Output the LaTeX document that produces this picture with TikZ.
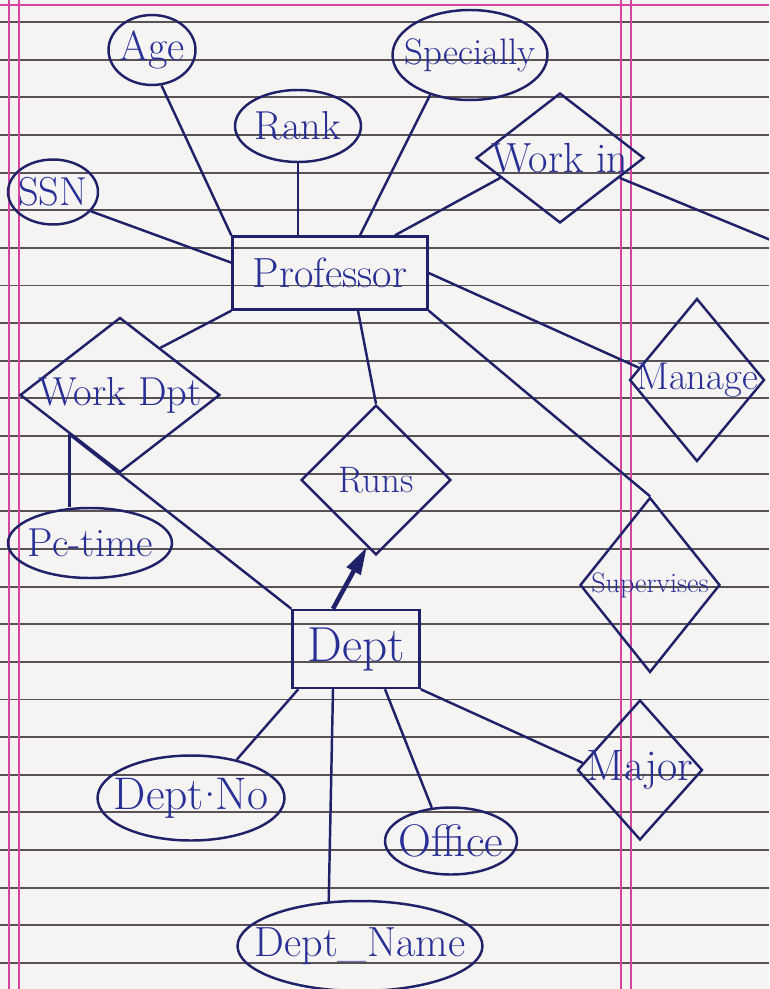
\documentclass[tikz,border=0pt]{standalone}
\usetikzlibrary{shapes.geometric,arrows.meta,calc}
\definecolor{inkblue}{RGB}{32,34,105}
\definecolor{penblue}{RGB}{40,48,150}
\definecolor{paper}{RGB}{246,244,243}
\definecolor{rule}{RGB}{88,82,86}
\definecolor{margin}{RGB}{214,70,160}
\tikzset{
  ink/.style={draw=inkblue,line width=1.4pt},
  hand/.style={text=penblue,font=\fontsize{23}{27}\selectfont},
  entity/.style={ink,rectangle,inner sep=0pt,hand,font=\fontsize{24}{28}\selectfont},
  attr/.style={ink,ellipse,inner sep=0pt},
  rel/.style={ink,diamond,inner sep=0pt},
}
\begin{document}
\begin{tikzpicture}[x=0.02cm,y=-0.02cm]
\useasboundingbox (0,0) rectangle (769,989);
\clip (0,0) rectangle (769,989);
\fill[paper] (0,0) rectangle (769,989);
\foreach \k in {0,...,25}
  \draw[rule,line width=1.1pt] (0,{22+37.64*\k}) -- (769,{22+37.64*\k});
\foreach \xm in {9,19,621,631}
  \draw[margin,line width=0.7pt] (\xm,0) -- (\xm,989);
\draw[margin,line width=0.7pt] (0,5) -- (769,5);

\node[entity,minimum width=3.9cm,minimum height=1.46cm] (prof) at (330,273) {Professor};
\node[entity,minimum width=2.54cm,minimum height=1.56cm,font=\fontsize{28}{32}\selectfont] (dept) at (356,649) {Dept};

\node[attr,minimum width=1.74cm,minimum height=1.4cm,label={[hand,font=\fontsize{24}{28}\selectfont]center:Age}] (age) at (152,50) {};
\node[attr,minimum width=2.52cm,minimum height=1.44cm,label={[hand]center:Rank}] (rank) at (298,126) {};
\node[attr,minimum width=3.1cm,minimum height=1.8cm,label={[hand,font=\fontsize{21}{25}\selectfont]center:Specially}] (spec) at (470,55) {};
\node[attr,minimum width=1.8cm,minimum height=1.3cm,label={[hand]center:SSN}] (ssn) at (53,192) {};
\node[attr,minimum width=3.28cm,minimum height=1.4cm,label={[hand]center:Pc-time}] (pctime) at (90,543) {};
\node[attr,minimum width=3.74cm,minimum height=1.7cm,label={[hand,font=\fontsize{26}{30}\selectfont]center:Dept\raisebox{0.28em}{.}No}] (deptno) at (191,798) {};
\node[attr,minimum width=2.64cm,minimum height=1.34cm,label={[hand,font=\fontsize{26}{30}\selectfont]center:Office}] (office) at (451,841) {};
\node[attr,minimum width=4.9cm,minimum height=1.8cm,label={[hand,font=\fontsize{24}{28}\selectfont]center:Dept\_Name}] (deptname) at (360,946) {};

\node[rel,minimum width=3.36cm,minimum height=2.6cm,label={[hand,font=\fontsize{24}{28}\selectfont]center:Work in}] (workin) at (560,158) {};
\node[rel,minimum width=4cm,minimum height=3.1cm,label={[hand]center:Work Dpt}] (workdpt) at (120,395) {};
\node[rel,minimum width=3cm,minimum height=3cm,label={[hand,font=\fontsize{21}{25}\selectfont]center:Runs}] (runs) at (376,480) {};
\node[rel,minimum width=2.7cm,minimum height=3.26cm,label={[hand,font=\fontsize{22}{26}\selectfont]center:Manage}] (manage) at (697,380) {};
\node[rel,minimum width=2.8cm,minimum height=3.5cm,label={[hand,font=\fontsize{16}{20}\selectfont]center:Supervises}] (superv) at (650,585) {};
\node[rel,minimum width=2.5cm,minimum height=2.8cm,label={[hand,font=\fontsize{25}{29}\selectfont]center:Major}] (major) at (640,770) {};

\coordinate (wout) at (790,248);
\coordinate (wdl) at ($(workdpt.west)!0.5!(workdpt.south)$);

\draw[ink] (ssn.-27) -- (prof.174);
\draw[ink] (age.-75) -- (prof.north west);
\draw[ink] (rank.south) -- (rank.south |- prof.north);
\draw[ink] (spec.-135) -- ([xshift=0.6cm]prof.north);
\draw[ink] ([xshift=1.3cm]prof.north) -- ($(workin.west)!0.3!(workin.south)$);
\draw[ink] ($(workin.east)!0.3!(workin.south)$) -- (wout);
\draw[ink] (prof.east) -- ($(manage.west)!0.15!(manage.north)$);
\draw[ink] (prof.south east) -- (superv.north);
\draw[ink] ([xshift=0.56cm]prof.south) -- (runs.north);
\draw[ink] (prof.south west) -- ($(workdpt.north)!0.4!(workdpt.east)$);
\draw[ink] (wdl) -- (wdl |- pctime.north);
\draw[ink] (wdl) -- (dept.north west);
\draw[ink,line width=2.6pt,-{Triangle[length=0.55cm,width=0.3cm]}] ([xshift=-0.46cm]dept.north) -- ($(runs.south)!0.12!(runs.west)$);
\draw[ink] ([xshift=0.14cm]dept.south west) -- (deptno.40);
\draw[ink] ([xshift=-0.46cm]dept.south) -- (deptname.125);
\draw[ink] ([xshift=0.58cm]dept.south) -- (office.120);
\draw[ink] (dept.south east) -- ($(major.west)!0.1!(major.north)$);
\end{tikzpicture}
\end{document}
